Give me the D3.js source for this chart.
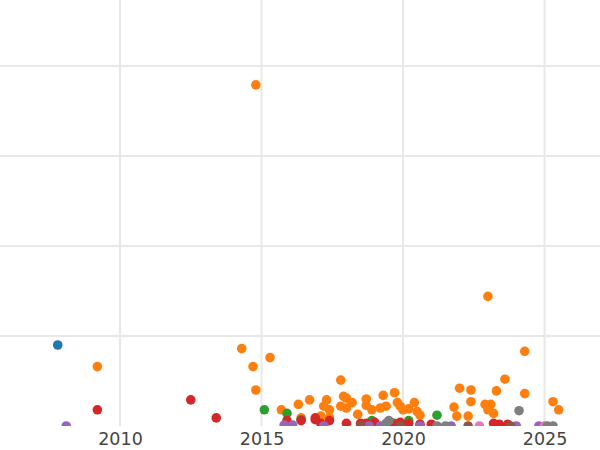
<!DOCTYPE html>
<meta charset="utf-8">
<style>
body { margin: 0; background: #fff; }
.tick text { font-family: "DejaVu Sans", sans-serif; font-size: 17px; fill: #444; }
</style>
<body>
<script src="https://d3js.org/d3.v7.min.js"></script>
<script>

// [year, value] per series
var orange = [[2014.8,37.9],[2014.3,8.6],[2014.7,6.6],[2015.3,7.6],[2014.8,4.0],[2009.2,6.6],[2023.0,14.4],[2024.3,8.3],
    [2015.7,1.8],[2016.3,2.4],[2016.7,2.9],[2017.3,2.9],[2017.2,2.2],[2017.4,1.8],[2017.8,5.1],[2017.9,3.3],[2018.0,3.1],
    [2017.8,2.2],[2018.0,2.0],[2018.2,2.6],[2018.4,1.3],[2018.7,3.0],[2018.7,2.3],[2018.9,1.8],[2019.3,3.4],[2019.2,2.0],
    [2019.4,2.2],[2019.7,3.7],[2019.8,2.6],[2019.9,2.2],[2020.0,1.8],[2020.2,1.9],[2020.5,1.6],[2020.4,2.6],[2020.6,1.2],
    [2021.8,2.1],[2021.9,1.1],[2022.0,4.2],[2022.3,1.1],[2022.4,2.7],[2022.4,4.0],[2022.9,2.4],[2023.1,2.4],[2023.0,1.8],
    [2023.2,1.4],[2023.3,3.9],[2023.6,5.2],[2024.3,3.6],[2025.3,2.7],[2025.5,1.8],[2017.1,1.1],[2017.4,0.9],[2016.4,0.9]];
var blue = [[2007.8,9.0]];
var green = [[2015.1,1.8],[2015.9,1.4],[2021.2,1.2],[2016.4,0.7],[2018.9,0.6],[2020.2,0.6],[2019.7,0.3]];
var red = [[2009.2,1.8],[2012.5,2.9],[2013.4,0.9],[2015.9,0.6],[2016.4,0.6],[2016.9,0.7],[2017.1,0.3],[2017.4,0.6],
    [2018.0,0.3],[2018.5,0.3],[2018.7,0.3],[2019.0,0.4],[2019.6,0.3],[2019.9,0.4],[2020.2,0.3],[2020.6,0.2],[2021.0,0.2],
    [2023.2,0.3],[2023.4,0.2],[2023.7,0.2],[2016.9,0.9]];
var purple = [[2008.1,0],[2015.8,0.1],[2016.1,0.1],[2017.2,0],[2018.8,0],[2019.2,0],[2020.6,0],[2021.7,0],[2024.0,0],[2024.8,0]];
var brown = [[2022.3,0],[2023.8,0],[2018.5,0],[2019.9,0]];
var pink = [[2022.7,0],[2025.0,0]];
var gray = [[2024.1,1.7],[2019.5,0.6],[2019.4,0.3],[2021.2,0],[2021.5,0],[2025.1,0],[2025.3,0]];
var xTicks = [2010, 2015, 2020, 2025];
var yTicks = [0, 10, 20, 30, 40];

var series = [
    {data: orange, color: "#ff7f0e"},
    {data: blue, color: "#1f77b4"},
    {data: green, color: "#2ca02c"},
    {data: red, color: "#d62728"},
    {data: purple, color: "#9467bd"},
    {data: brown, color: "#8c564b"},
    {data: pink, color: "#e377c2"},
    {data: gray, color: "#7f7f7f"}
];

var w = 600, h = 450, plotBottom = 426;

var x = d3.scaleLinear().domain([2005.76, 2026.96]).range([0, w]);
var y = d3.scaleLinear().domain([0, 47.33]).range([plotBottom, 0]);

var svg = d3.select("body").append("svg").attr("width", w).attr("height", h);

svg.append("defs").append("clipPath").attr("id", "plot")
    .append("rect").attr("x", 0).attr("y", 0).attr("width", w).attr("height", plotBottom);

// grid
svg.selectAll(".hg").data(yTicks.slice(1)).enter().append("line")
    .attr("x1", 0).attr("x2", w)
    .attr("y1", function(d) { return y(d); }).attr("y2", function(d) { return y(d); })
    .attr("stroke", "#e8e8e8").attr("stroke-width", 2);
svg.selectAll(".vg").data(xTicks).enter().append("line")
    .attr("x1", function(d) { return x(d); }).attr("x2", function(d) { return x(d); })
    .attr("y1", 0).attr("y2", plotBottom)
    .attr("stroke", "#e8e8e8").attr("stroke-width", 2);

var g = svg.append("g").attr("clip-path", "url(#plot)");
series.forEach(function(s) {
    g.selectAll(null).data(s.data).enter().append("circle")
        .attr("cx", function(d) { return x(d[0]); })
        .attr("cy", function(d) { return y(d[1]); })
        .attr("r", 4.8)
        .attr("fill", s.color);
});

var xAxis = svg.append("g").attr("transform", "translate(0," + plotBottom + ")")
    .call(d3.axisBottom(x).tickValues(xTicks).tickFormat(d3.format("d")).tickSize(0).tickPadding(7));
xAxis.select(".domain").remove();
xAxis.selectAll("text").style("font-size", "17.5px");

</script>
</body>
